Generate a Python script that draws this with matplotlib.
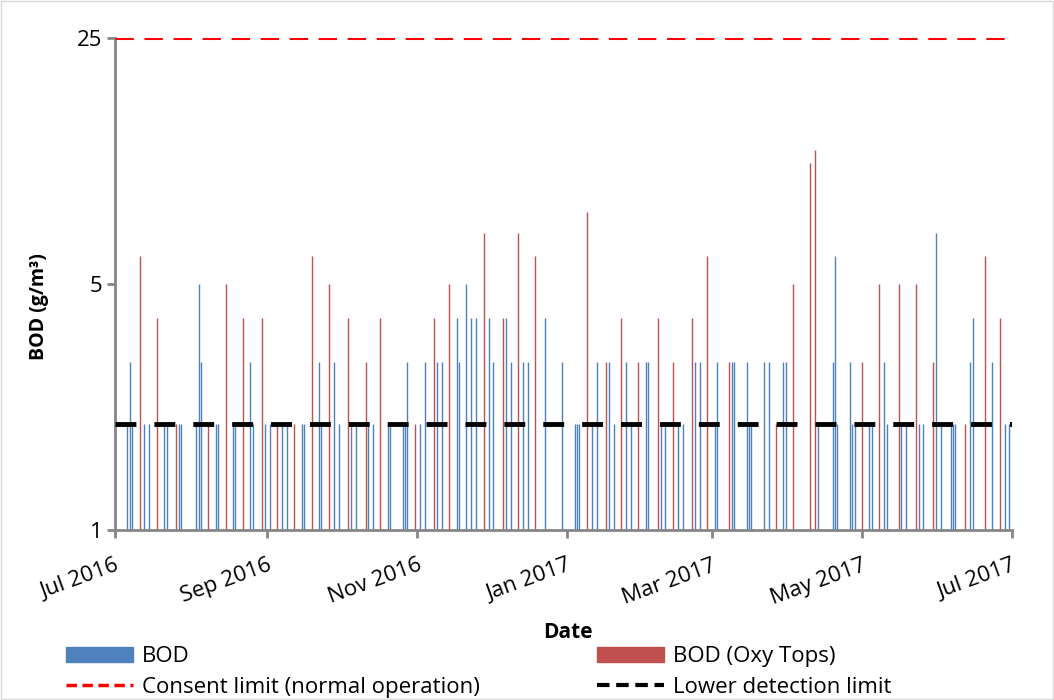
import matplotlib.pyplot as plt
import matplotlib.dates as mdates
import matplotlib.patches as mpatches
from matplotlib.lines import Line2D
from matplotlib.ticker import FixedLocator, NullLocator
import pandas as pd

plt.rcParams['font.family'] = ['Open Sans', 'DejaVu Sans']

# BOD samples (values at 2 are below the detection limit)
bod_dates = [
    "2016-07-06", "2016-07-07", "2016-07-08", "2016-07-13", "2016-07-15",
    "2016-07-21", "2016-07-22", "2016-07-27", "2016-07-28", "2016-08-03",
    "2016-08-04", "2016-08-05", "2016-08-11", "2016-08-12", "2016-08-18",
    "2016-08-19", "2016-08-25", "2016-08-26", "2016-08-31", "2016-09-02",
    "2016-09-07", "2016-09-09", "2016-09-15", "2016-09-16", "2016-09-22",
    "2016-09-23", "2016-09-28", "2016-09-30", "2016-10-05", "2016-10-07",
    "2016-10-12", "2016-10-14", "2016-10-20", "2016-10-21", "2016-10-26",
    "2016-10-27", "2016-10-28", "2016-11-02", "2016-11-04", "2016-11-09",
    "2016-11-11", "2016-11-17", "2016-11-18", "2016-11-21", "2016-11-23",
    "2016-11-25", "2016-11-30", "2016-12-02", "2016-12-07", "2016-12-09",
    "2016-12-14", "2016-12-16", "2016-12-23", "2016-12-30", "2017-01-04",
    "2017-01-05", "2017-01-06", "2017-01-11", "2017-01-13", "2017-01-18",
    "2017-01-20", "2017-01-25", "2017-01-27", "2017-02-02", "2017-02-03",
    "2017-02-08", "2017-02-10", "2017-02-15", "2017-02-17", "2017-02-22",
    "2017-02-24", "2017-03-02", "2017-03-03", "2017-03-09", "2017-03-10",
    "2017-03-15", "2017-03-16", "2017-03-17", "2017-03-22", "2017-03-24",
    "2017-03-30", "2017-03-31", "2017-04-13", "2017-04-19", "2017-04-20",
    "2017-04-21", "2017-04-26", "2017-04-27", "2017-04-28", "2017-05-04",
    "2017-05-05", "2017-05-10", "2017-05-11", "2017-05-17", "2017-05-19",
    "2017-05-24", "2017-05-26", "2017-05-31", "2017-06-02", "2017-06-06",
    "2017-06-07", "2017-06-08", "2017-06-14", "2017-06-15", "2017-06-23",
    "2017-06-28", "2017-06-30",
]
bod_values = [
    2, 3, 2, 2, 2, 2, 2, 2, 2, 2,
    5, 3, 2, 2, 2, 2, 3, 2, 2, 2,
    2, 2, 2, 2, 3, 2, 3, 2, 2, 2,
    2, 2, 2, 2, 2, 2, 3, 2, 3, 3,
    3, 4, 3, 5, 4, 4, 4, 3, 4, 3,
    3, 3, 4, 3, 2, 2, 2, 2, 3, 3,
    2, 3, 2, 3, 3, 2, 2, 2, 2, 3,
    3, 2, 3, 3, 3, 3, 2, 2, 3, 3,
    3, 3, 2, 3, 6, 2, 3, 2, 2, 2,
    2, 3, 2, 2, 2, 2, 2, 7, 2, 2,
    2, 2, 3, 4, 3, 2, 2,
]

oxy_dates = [
    "2016-07-11", "2016-07-18", "2016-07-26", "2016-08-08", "2016-08-15",
    "2016-08-22", "2016-08-30", "2016-09-05", "2016-09-12", "2016-09-19",
    "2016-09-26", "2016-10-04", "2016-10-11", "2016-10-17", "2016-10-31",
    "2016-11-08", "2016-11-14", "2016-11-28", "2016-12-06", "2016-12-12",
    "2016-12-19", "2017-01-09", "2017-01-17", "2017-01-23", "2017-01-30",
    "2017-02-07", "2017-02-13", "2017-02-21", "2017-02-27", "2017-03-08",
    "2017-03-27", "2017-04-03", "2017-04-10", "2017-04-12", "2017-05-01",
    "2017-05-08", "2017-05-16", "2017-05-23", "2017-05-30", "2017-06-12",
    "2017-06-20", "2017-06-26",
]
oxy_values = [
    6, 4, 2, 2, 5, 4, 4, 2, 2, 6,
    5, 4, 3, 4, 2, 4, 5, 7, 4, 7,
    6, 8, 3, 4, 3, 4, 3, 4, 6, 3,
    2, 5, 11, 12, 3, 5, 5, 5, 3, 2,
    6, 4,
]

consent_limit = 25
detection_limit = 2

y_ticks = [1, 5, 25]
x_ticks = ["2016-07-01", "2016-09-01", "2016-11-01", "2017-01-01",
           "2017-03-01", "2017-05-01", "2017-07-01"]

blue = "#4F81BD"
red = "#C0504D"

fig = plt.figure(figsize=(10.54, 7), dpi=100)
ax = fig.add_axes([0.1091, 0.2429, 0.851, 0.7029])

ax.vlines(pd.to_datetime(bod_dates), 1, bod_values, color=blue, lw=1, zorder=2)
ax.vlines(pd.to_datetime(oxy_dates), 1, oxy_values, color=red, lw=1, zorder=2)
ax.axhline(consent_limit, color="#FF0000", lw=2.2, ls=(0, (6, 3.5)), zorder=3)
ax.axhline(detection_limit, color="black", lw=3.5, ls=(0, (4.3, 3.7)), zorder=3)

ax.set_yscale("log")
ax.set_ylim(1, 25)
ax.yaxis.set_major_locator(FixedLocator(y_ticks))
ax.yaxis.set_minor_locator(NullLocator())
ax.set_yticklabels([str(t) for t in y_ticks], fontsize=16)

ax.set_xlim(pd.Timestamp("2016-07-01"), pd.Timestamp("2017-07-01"))
ax.set_xticks(pd.to_datetime(x_ticks))
ax.xaxis.set_major_formatter(mdates.DateFormatter("%b %Y"))
plt.setp(ax.get_xticklabels(), rotation=20, ha="right", va="top",
         rotation_mode="anchor", fontsize=16)

for s in ["top", "right"]:
    ax.spines[s].set_visible(False)
for s in ["left", "bottom"]:
    ax.spines[s].set_color("#868686")
    ax.spines[s].set_linewidth(2)
ax.tick_params(axis="both", color="#868686", width=2, length=6, direction="out")
ax.tick_params(axis="x", pad=12)
ax.tick_params(axis="y", pad=3)

ax.set_ylabel("BOD (g/m³)", fontsize=14, fontweight="bold")
ax.yaxis.set_label_coords(-0.074, 0.455)
fig.text(0.539, 0.097, "Date", fontsize=15, fontweight="bold", ha="center", va="center")

handles = [
    mpatches.Patch(color=blue, label="BOD"),
    Line2D([], [], color="#FF0000", lw=2.5, ls=(0, (3, 1.6)), label="Consent limit (normal operation)"),
    mpatches.Patch(color=red, label="BOD (Oxy Tops)"),
    Line2D([], [], color="black", lw=3, ls=(0, (3, 1.6)), label="Lower detection limit"),
]
fig.legend(handles=handles, loc="upper left", bbox_to_anchor=(0.0626, 0.077),
           ncol=2, frameon=False, fontsize=16, handlelength=3.0,
           handleheight=0.65, handletextpad=0.4, columnspacing=5.3,
           labelspacing=0.45, borderaxespad=0, borderpad=0)

fig.patches.append(mpatches.Rectangle((0.001, 0.001), 0.998, 0.998,
                                      transform=fig.transFigure, fill=False,
                                      edgecolor="#D9D9D9", lw=1))

fig.savefig("out.png", dpi=100)
